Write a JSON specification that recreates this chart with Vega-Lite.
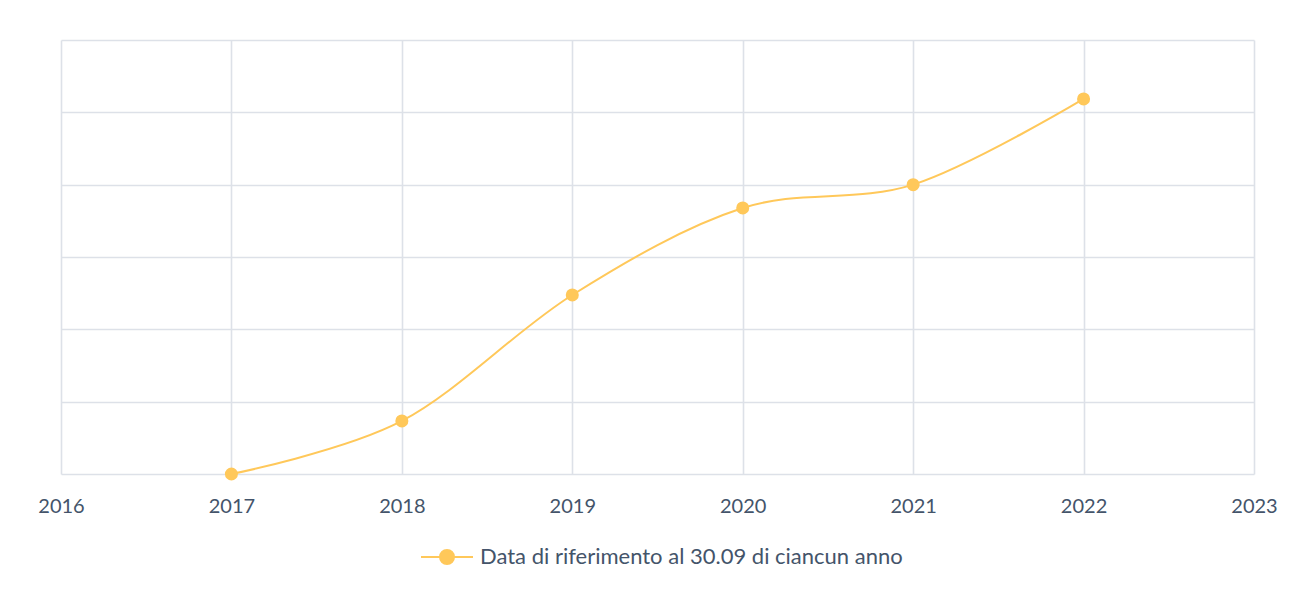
{
  "$schema": "https://vega.github.io/schema/vega-lite/v6.json",
  "width": 1193,
  "height": 434,
  "autosize": {"type": "none"},
  "padding": {"left": 61, "top": 40, "right": 43, "bottom": 115},
  "background": "#ffffff",
  "data": {
    "values": [
      {"anno": 2017, "valore": 0.0},
      {"anno": 2018, "valore": 0.733},
      {"anno": 2019, "valore": 2.475},
      {"anno": 2020, "valore": 3.678},
      {"anno": 2021, "valore": 4.0},
      {"anno": 2022, "valore": 5.185}
    ]
  },
  "encoding": {
    "x": {
      "field": "anno",
      "type": "quantitative",
      "scale": {"domain": [2016, 2023], "nice": false, "zero": false},
      "axis": {
        "title": null,
        "values": [2016, 2017, 2018, 2019, 2020, 2021, 2022, 2023],
        "format": "d",
        "ticks": false,
        "domain": false,
        "grid": true,
        "gridColor": "#dde1e8",
        "gridWidth": 1.6,
        "labelFont": "Lato",
        "labelFontSize": 20,
        "labelColor": "#44546a",
        "labelPadding": 22,
        "labelFlush": false
      }
    },
    "y": {
      "field": "valore",
      "type": "quantitative",
      "scale": {"domain": [0, 6], "nice": false},
      "axis": {
        "title": null,
        "values": [0, 1, 2, 3, 4, 5, 6],
        "labels": false,
        "ticks": false,
        "domain": false,
        "grid": true,
        "gridColor": "#dde1e8",
        "gridWidth": 1.6
      }
    },
    "color": {
      "datum": "Data di riferimento al 30.09 di ciancun anno",
      "type": "nominal",
      "scale": {"range": ["#ffc85a"]},
      "legend": {
        "title": null,
        "orient": "none",
        "legendX": 359,
        "legendY": 490,
        "symbolType": "M-1,0H1M-0.27,0A0.27,0.27 0 1,0 0.27,0A0.27,0.27 0 1,0 -0.27,0Z",
        "symbolSize": 2704,
        "symbolStrokeWidth": 2,
        "symbolFillColor": "#ffc85a",
        "symbolStrokeColor": "#ffc85a",
        "symbolOpacity": 1,
        "labelFont": "Lato",
        "labelFontSize": 22,
        "labelColor": "#44546a",
        "labelOffset": 6,
        "labelLimit": 0
      }
    }
  },
  "layer": [
    {
      "mark": {"type": "line", "interpolate": "cardinal", "tension": 0, "strokeWidth": 2}
    },
    {
      "mark": {"type": "point", "filled": true, "size": 170, "opacity": 1, "shape": "circle"}
    }
  ],
  "config": {
    "view": {"stroke": null}
  }
}
